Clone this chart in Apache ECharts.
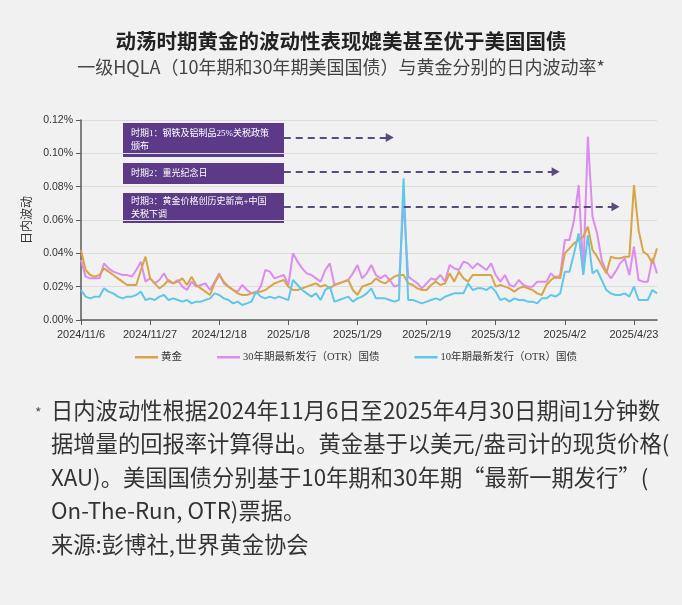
<!DOCTYPE html>
<html><head><meta charset="utf-8">
<script src="https://cdn.jsdelivr.net/npm/echarts@6/dist/echarts.min.js"></script>
<style>html,body{margin:0;padding:0;background:#f1f1f1;}#c{width:682px;height:605px;}</style>
</head><body><div id="c"></div>
<script>
// ---- data ----
const startDate = '2024-11-06';
const endDate = '2025-04-30';
const seriesNames = ['黄金', '30年期最新发行（OTR）国债', '10年期最新发行（OTR）国债'];
const yTicks = [0, 0.02, 0.04, 0.06, 0.08, 0.10, 0.12];
const gold = [
 0.042,0.030,0.027,0.026,0.027,0.031,0.029,0.027,0.025,0.023,
 0.021,0.021,0.021,0.030,0.038,0.025,0.022,0.019,0.021,0.024,
 0.022,0.023,0.025,0.021,0.026,0.021,0.019,0.017,0.015,0.022,
 0.027,0.023,0.020,0.018,0.016,0.015,0.015,0.016,0.017,0.017,
 0.018,0.020,0.022,0.023,0.024,0.020,0.018,0.018,0.019,0.020,
 0.021,0.022,0.020,0.021,0.019,0.021,0.022,0.023,0.024,0.018,
 0.015,0.020,0.021,0.022,0.025,0.023,0.022,0.024,0.026,0.027,
 0.027,0.022,0.021,0.019,0.018,0.018,0.021,0.023,0.021,0.022,
 0.028,0.023,0.029,0.025,0.023,0.027,0.027,0.027,0.027,0.027,
 0.020,0.021,0.020,0.019,0.017,0.019,0.020,0.019,0.018,0.016,
 0.015,0.021,0.024,0.026,0.025,0.040,0.043,0.046,0.048,0.050,
 0.056,0.042,0.038,0.033,0.028,0.038,0.037,0.037,0.038,0.038,
 0.081,0.054,0.041,0.039,0.034,0.043
];
const otr30 = [
 0.036,0.026,0.025,0.025,0.025,0.034,0.031,0.029,0.028,0.027,
 0.027,0.026,0.030,0.035,0.023,0.025,0.022,0.024,0.028,0.023,
 0.022,0.024,0.020,0.018,0.023,0.020,0.021,0.022,0.018,0.023,
 0.028,0.022,0.020,0.018,0.017,0.021,0.018,0.016,0.016,0.020,
 0.030,0.029,0.025,0.026,0.027,0.021,0.040,0.035,0.031,0.028,
 0.027,0.025,0.023,0.030,0.034,0.021,0.022,0.023,0.024,0.028,
 0.033,0.025,0.028,0.033,0.027,0.025,0.027,0.024,0.020,0.021,
 0.072,0.026,0.024,0.022,0.019,0.022,0.025,0.024,0.027,0.023,
 0.033,0.031,0.030,0.035,0.034,0.031,0.034,0.032,0.030,0.034,
 0.027,0.023,0.027,0.021,0.020,0.024,0.021,0.020,0.020,0.023,
 0.023,0.023,0.028,0.025,0.027,0.048,0.048,0.060,0.081,0.028,
 0.110,0.062,0.052,0.036,0.029,0.025,0.029,0.034,0.037,0.027,
 0.044,0.024,0.023,0.023,0.037,0.028
];
const otr10 = [
 0.018,0.014,0.013,0.014,0.014,0.019,0.017,0.016,0.014,0.013,
 0.014,0.014,0.015,0.017,0.012,0.013,0.012,0.014,0.015,0.012,
 0.013,0.012,0.011,0.012,0.010,0.011,0.011,0.012,0.013,0.016,
 0.015,0.013,0.012,0.010,0.011,0.009,0.010,0.011,0.017,0.014,
 0.013,0.014,0.013,0.014,0.013,0.012,0.024,0.021,0.018,0.016,
 0.014,0.016,0.012,0.018,0.020,0.011,0.012,0.013,0.014,0.011,
 0.013,0.014,0.016,0.019,0.013,0.013,0.013,0.012,0.011,0.012,
 0.085,0.012,0.012,0.011,0.010,0.011,0.012,0.013,0.012,0.014,
 0.015,0.016,0.016,0.016,0.022,0.018,0.019,0.019,0.018,0.020,
 0.017,0.012,0.013,0.011,0.013,0.012,0.012,0.011,0.011,0.010,
 0.013,0.013,0.015,0.014,0.016,0.029,0.029,0.040,0.052,0.027,
 0.051,0.028,0.030,0.024,0.018,0.016,0.015,0.015,0.016,0.014,
 0.020,0.012,0.012,0.012,0.018,0.016
];
// annotations: label text, arrow start index, arrow end index, arrow level
const periods = [
 {text: '时期1：钢铁及铝制品25%关税政策\n颁布', from: 44, to: 67, level: 0.1095},
 {text: '时期2：重光纪念日', from: 44, to: 103, level: 0.089},
 {text: '时期3：黄金价格创历史新高+中国\n关税下调', from: 44, to: 116, level: 0.068}
];
const titleText = '动荡时期黄金的波动性表现媲美甚至优于美国国债';
const subtitleText = '一级HQLA（10年期和30年期美国国债）与黄金分别的日内波动率*';
const footLines = [
 '日内波动性根据2024年11月6日至2025年4月30日期间1分钟数',
 '据增量的回报率计算得出。黄金基于以美元/盎司计的现货价格(',
 'XAU)。美国国债分别基于10年期和30年期“最新一期发行”(',
 'On-The-Run, OTR)票据。',
 '来源:彭博社,世界黄金协会'
];

// weekday categories
const cats = [];
(function(){
  let d = new Date(startDate + 'T00:00:00Z');
  const e = new Date(endDate + 'T00:00:00Z');
  while (d <= e) {
    const w = d.getUTCDay();
    if (w !== 0 && w !== 6) cats.push(d.getUTCFullYear() + '/' + (d.getUTCMonth() + 1) + '/' + d.getUTCDate());
    d = new Date(d.getTime() + 86400000);
  }
})();

const colors = ['#d9a447', '#dc8cec', '#5fc8ea'];
const sans = '"Noto Sans CJK SC", "Noto Sans", sans-serif';
const serif = '"Liberation Serif", "Noto Sans CJK SC", serif';
const boxColor = '#5c3a87';

const chart = echarts.init(document.getElementById('c'));

const boxGeo = [
  {top: 123, h: 34},
  {top: 163, h: 21},
  {top: 193, h: 30}
];
const graphics = [];
periods.forEach((p, k) => {
  graphics.push({
    type: 'group', left: 123, top: boxGeo[k].top, silent: true,
    children: [
      {type: 'rect', shape: {x: 0, y: 0, width: 161, height: boxGeo[k].h}, style: {fill: boxColor}},
      {type: 'text', x: 8, y: boxGeo[k].h / 2, style: {text: p.text, fill: '#ffffff', font: '9px ' + serif, lineHeight: 13, verticalAlign: 'middle'}}
    ]
  });
});
graphics.push({type: 'text', left: 35, top: 406, style: {text: '*', fill: '#555', font: '14px ' + sans}});
footLines.forEach((t, k) => {
  graphics.push({type: 'text', left: 51, top: 399 + k * 33.5, style: {text: t, fill: '#333', font: '22.3px ' + sans}});
});

const markLines = {
  silent: true,
  symbol: ['none', 'triangle'],
  symbolSize: [9, 8],
  label: {show: false},
  lineStyle: {type: [7, 5], color: '#5b4a7c', width: 2},
  data: periods.map(p => [{coord: [p.from, p.level]}, {coord: [p.to, p.level]}])
};

chart.setOption({
  backgroundColor: '#f1f1f1',
  animation: false,
  color: colors,
  title: [
    {text: titleText, left: 'center', top: 26, textStyle: {fontFamily: sans, fontSize: 20.5, fontWeight: 'bold', color: '#222'}},
    {text: subtitleText, left: 'center', top: 53, textStyle: {fontFamily: sans, fontSize: 18, fontWeight: 'normal', color: '#444'}}
  ],
  grid: {left: 81, top: 120, width: 576, height: 200, containLabel: false},
  legend: {
    left: 130, top: 347, icon: 'rect', itemWidth: 23, itemHeight: 2.5, itemGap: 35,
    textStyle: {fontFamily: serif, fontSize: 10.5, color: '#333', padding: [0, 0, 0, -2]},
    data: seriesNames
  },
  xAxis: {
    type: 'category', data: cats, boundaryGap: false,
    axisLine: {lineStyle: {color: '#5a5a5a', width: 1.5}},
    axisTick: {show: true, interval: 14, length: 5, lineStyle: {color: '#5a5a5a'}},
    axisLabel: {interval: 14, fontSize: 11, color: '#333', margin: 9, fontFamily: '"Liberation Sans", Arial, sans-serif'},
    splitLine: {show: false}
  },
  yAxis: {
    type: 'value', min: yTicks[0], max: yTicks[yTicks.length - 1], interval: 0.02,
    name: '日内波动', nameLocation: 'middle', nameGap: 42, nameRotate: 90,
    nameTextStyle: {fontFamily: sans, fontSize: 12, color: '#333'},
    axisLine: {show: true, lineStyle: {color: '#5a5a5a', width: 1.5}},
    axisTick: {show: true, length: 5, lineStyle: {color: '#5a5a5a'}},
    axisLabel: {fontSize: 10.5, color: '#333', margin: 8, fontFamily: '"Liberation Sans", Arial, sans-serif', formatter: v => v.toFixed(2) + '%'},
    splitLine: {show: true, lineStyle: {color: '#dcdcdc', width: 1}}
  },
  graphic: graphics,
  series: [
    {name: seriesNames[0], type: 'line', data: gold, symbol: 'none', lineStyle: {width: 2}, z: 3, markLine: markLines},
    {name: seriesNames[1], type: 'line', data: otr30, symbol: 'none', lineStyle: {width: 2}, z: 2},
    {name: seriesNames[2], type: 'line', data: otr10, symbol: 'none', lineStyle: {width: 2}, z: 4}
  ]
});
</script></body></html>
